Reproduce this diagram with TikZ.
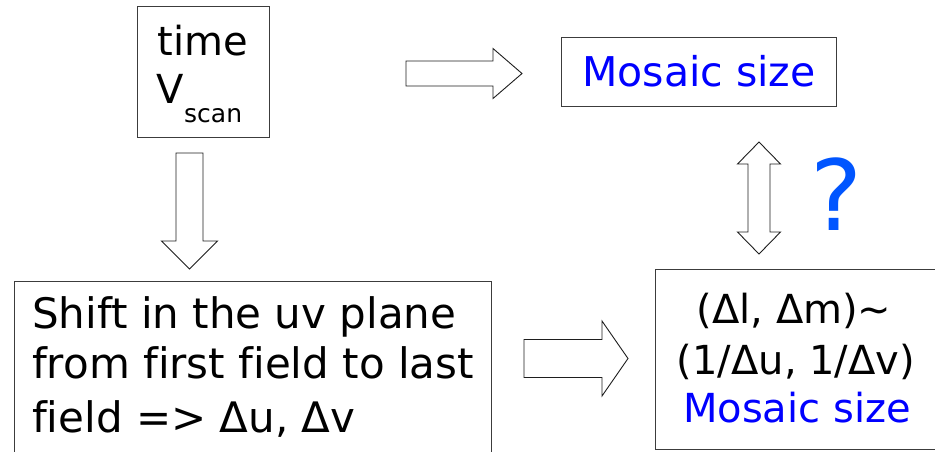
\documentclass[tikz,border=0pt]{standalone}
\usepackage{fontspec}
\setmainfont{DejaVu Sans}[Ligatures=NoCommon]
\usetikzlibrary{calc}

\definecolor{mosaicblue}{RGB}{0,0,255}
\definecolor{qblue}{RGB}{0,85,255}
\definecolor{boxline}{RGB}{60,60,60}
\definecolor{arrowline}{RGB}{30,30,30}

% Hollow block arrow pointing right: start, tip, shaft half-width, head half-width, head length
\newcommand\blockright[5]{%
  \draw[blockarrow] ($(#1)+(0,-#3)$) -- ($(#2)+(-#5,-#3)$) -- ($(#2)+(-#5,-#4)$) -- (#2)
    -- ($(#2)+(-#5,#4)$) -- ($(#2)+(-#5,#3)$) -- ($(#1)+(0,#3)$) -- cycle;}
% Hollow block arrow pointing down (y grows downwards here)
\newcommand\blockdown[5]{%
  \draw[blockarrow] ($(#1)+(-#3,0)$) -- ($(#2)+(-#3,-#5)$) -- ($(#2)+(-#4,-#5)$) -- (#2)
    -- ($(#2)+(#4,-#5)$) -- ($(#2)+(#3,-#5)$) -- ($(#1)+(#3,0)$) -- cycle;}
% Hollow vertical double arrow between two tips
\newcommand\blockupdown[5]{%
  \draw[blockarrow] (#1) -- ($(#1)+(#4,#5)$) -- ($(#1)+(#3,#5)$) -- ($(#2)+(#3,-#5)$)
    -- ($(#2)+(#4,-#5)$) -- (#2) -- ($(#2)+(-#4,-#5)$) -- ($(#2)+(-#3,-#5)$)
    -- ($(#1)+(-#3,#5)$) -- ($(#1)+(-#4,#5)$) -- cycle;}

\tikzset{
  box/.style={draw=boxline, line width=1pt, fill=white, inner sep=0pt},
  blockarrow/.style={draw=arrowline, line width=0.9pt, fill=white, line join=miter},
  txt/.style={inner sep=0pt, font=\fontsize{40}{48}\selectfont},
  bigtxt/.style={inner sep=0pt, font=\fontsize{42}{50}\selectfont},
  subtxt/.style={inner sep=0pt, font=\fontsize{25}{30}\selectfont},
}

\begin{document}
\begin{tikzpicture}[x=1pt, y=-1pt]
  \path[use as bounding box] (0,0) rectangle (935,451);
  \clip (0,0) rectangle (935,451);

  % boxes
  \node[box, minimum width=132pt, minimum height=131pt] (time) at (203,71.5) {};
  \node[box, minimum width=275pt, minimum height=69pt] (mosaic) at (698.5,71.5) {};
  \node[box, minimum width=477pt, minimum height=190pt] (shift) at (252.5,376) {};
  \node[box, minimum width=282pt, minimum height=180pt] (relation) at (796,359) {};

  % texts of the time box
  \node[txt, anchor=base] (timelbl) at (203,55) {time};
  \node[txt, anchor=base west] (vlbl) at (156,103) {V};
  \node[subtxt, anchor=base west] (scanlbl) at (184,122) {scan};

  % top right box
  \node[txt, anchor=base, text=mosaicblue, font=\fontsize{41}{48}\selectfont] (mosaiclbl) at (699,86) {Mosaic size};

  % uv-plane shift box
  \node[bigtxt, anchor=base west] (shift1) at (32,328) {Shift in the uv plane};
  \node[bigtxt, anchor=base west] (shift2) at (32,378) {from first field to last};
  \node[bigtxt, anchor=base west] (shift3) at (32,432) {field => Δu, Δv};

  % relation box
  \node[txt, anchor=base] (rel1) at (794,323) {(Δl, Δm)\char"223C};
  \node[txt, anchor=base] (rel2) at (796,374) {(1/Δu, 1/Δv)};
  \node[txt, anchor=base, text=mosaicblue] (rel3) at (797,422) {Mosaic size};

  % question mark
  \node[inner sep=0pt, anchor=base, text=qblue, font=\fontsize{98}{110}\selectfont] (qmark) at (836,230) {?};

  % block arrow connectors
  \coordinate (a1s) at (406,73.5);
  \coordinate (a1t) at (522,73.5);
  \blockright{a1s}{a1t}{12.5}{25}{29}

  \coordinate (a2s) at (189.5,153);
  \coordinate (a2t) at (189.5,269);
  \blockdown{a2s}{a2t}{13.5}{28}{28}

  \coordinate (a3s) at (524,358.5);
  \coordinate (a3t) at (628,358.5);
  \blockright{a3s}{a3t}{19}{37.5}{26}

  \coordinate (a4t) at (759,142);
  \coordinate (a4b) at (759,254);
  \blockupdown{a4t}{a4b}{11}{21.5}{22}
\end{tikzpicture}
\end{document}
